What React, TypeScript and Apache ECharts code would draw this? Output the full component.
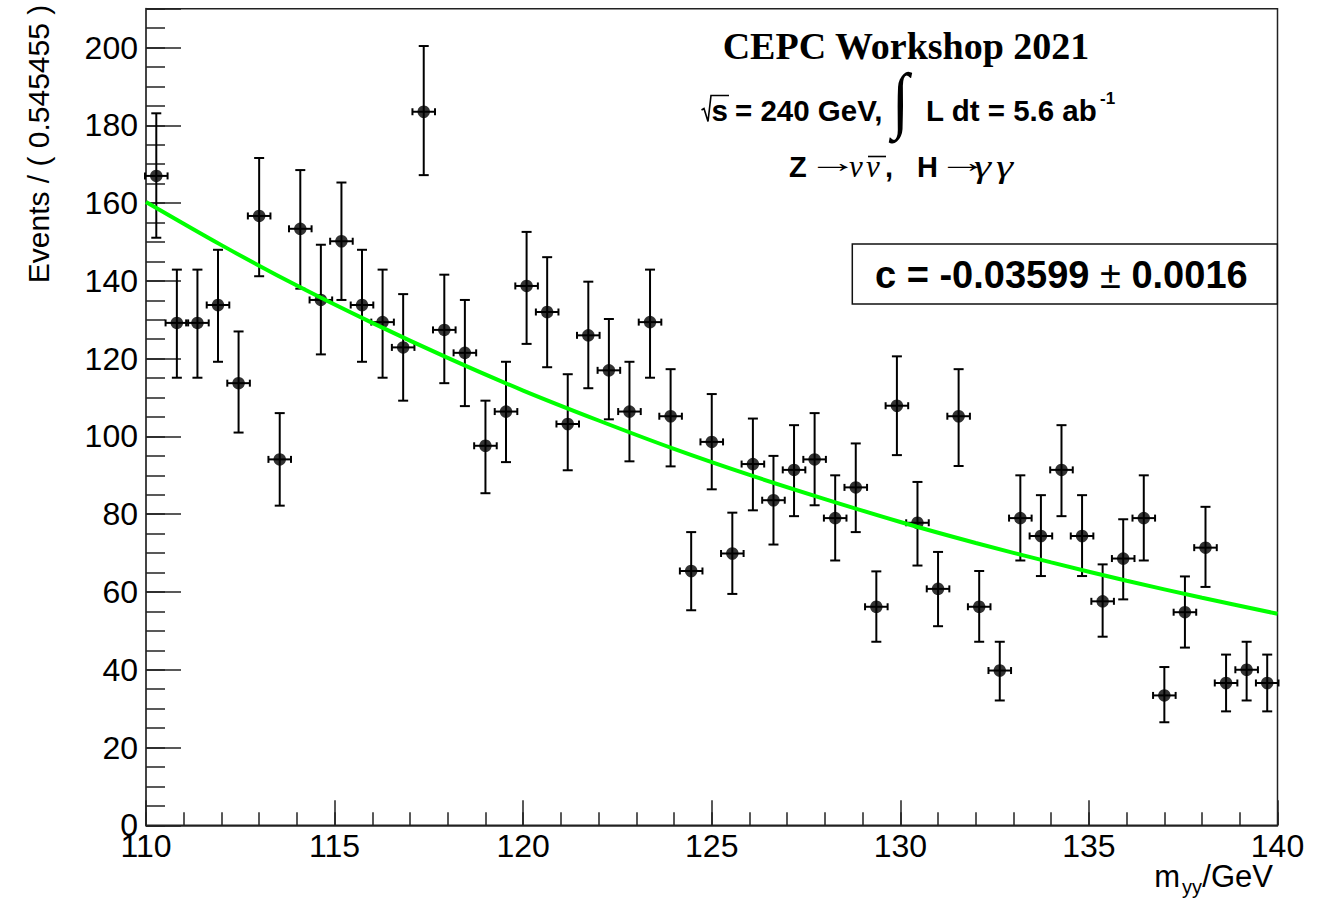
import React, { useEffect, useRef } from "react";
import * as echarts from "echarts";

// ---- data ----
const X_MIN = 110;
const X_MAX = 140;
const N_BINS = 55;
const BIN_WIDTH = (X_MAX - X_MIN) / N_BINS; // 0.545455

const counts = [
  167.0, 129.2, 129.2, 133.8, 113.7, 156.7, 94.1, 153.4, 135.1, 150.2,
  133.8, 129.4, 122.9, 183.5, 127.4, 121.5, 97.6, 106.4, 138.7, 132.0,
  103.2, 126.0, 117.0, 106.4, 129.4, 105.2, 65.4, 98.6, 69.9, 92.9,
  83.6, 91.4, 94.1, 79.0, 86.9, 56.2, 107.9, 77.8, 60.8, 105.2,
  56.2, 39.8, 79.0, 74.4, 91.4, 74.4, 57.6, 68.6, 79.0, 33.4,
  54.8, 71.4, 36.6, 40.0, 36.6,
];
const errHigh = [
  183.1, 142.9, 142.9, 148.0, 127.0, 171.6, 106.0, 168.5, 149.3, 165.3,
  148.0, 142.9, 136.6, 200.4, 141.6, 135.1, 109.2, 119.2, 152.6, 146.1,
  116.0, 139.8, 130.2, 119.2, 142.9, 117.3, 75.4, 110.9, 80.4, 104.6,
  95.0, 102.9, 106.0, 90.0, 98.2, 65.3, 120.6, 88.3, 70.3, 117.3,
  65.4, 47.2, 90.0, 84.9, 102.9, 84.9, 67.1, 78.7, 90.0, 40.7,
  64.0, 81.9, 43.9, 47.2, 43.9,
];
const errLow = [
  151.1, 115.1, 115.1, 119.2, 101.0, 141.2, 82.2, 138.0, 121.1, 135.1,
  119.2, 115.1, 109.2, 167.2, 113.7, 107.8, 85.4, 93.4, 123.8, 117.8,
  91.3, 112.4, 104.4, 93.6, 115.1, 92.3, 55.3, 86.4, 59.5, 81.0,
  72.2, 79.5, 82.3, 68.1, 75.4, 47.2, 95.2, 66.8, 51.2, 92.4,
  47.2, 32.1, 68.1, 64.1, 79.5, 64.1, 48.5, 58.1, 68.1, 26.5,
  45.7, 61.3, 29.3, 32.1, 29.3,
];

// fitted exponential (green curve), read at 2 GeV steps
const fitX = [110, 112, 114, 116, 118, 120, 122, 124, 126, 128, 130, 132, 134, 136, 138, 140];
const fitY = [160.3, 149.2, 138.8, 129.2, 120.2, 111.8, 104.1, 96.8, 90.1, 83.9, 78.0, 72.6, 67.6, 62.9, 58.5, 54.4];

const xTickStep = 5;
const yTickStep = 20;
const Y_MAX = 210;

const titleText = "CEPC Workshop 2021";
const fitText = "c = -0.03599";
const fitErrText = "0.0016";
const yTitle = "Events / ( 0.545455 )";

export default function App() {
  const ref = useRef<HTMLDivElement>(null);

  useEffect(() => {
    if (!ref.current) return;
    const chart = echarts.init(ref.current, null, { renderer: "svg" });

    const centers = counts.map((_, i) => X_MIN + (i + 0.5) * BIN_WIDTH);
    const points = counts.map((c, i) => [centers[i], c]);
    const bars = counts.map((c, i) => [centers[i], c, errLow[i], errHigh[i]]);
    const fit = fitX.map((x, i) => [x, fitY[i]]);

    const sans = "'Liberation Sans', Arial, sans-serif";
    const serif = "'Liberation Serif', 'Times New Roman', serif";
    const black = "#000";

    const capV = 5;
    const capH = 3.5;
    const txt = (x: number, y: number, text: string, font: string, extra: any = {}) => ({
      type: "text",
      x,
      y,
      ...extra,
      style: { text, font, fill: black, align: "left", verticalAlign: "middle", ...(extra.style || {}) },
    });

    const option: any = {
      animation: false,
      backgroundColor: "#fff",
      grid: {
        left: 146,
        right: 45.5,
        top: 8.7,
        bottom: 76.7,
        show: true,
        borderColor: "#222",
        borderWidth: 1.5,
        backgroundColor: "transparent",
      },
      xAxis: [
        {
          type: "value",
          min: X_MIN,
          max: X_MAX,
          interval: xTickStep,
          position: "bottom",
          axisLine: { show: true, onZero: false, lineStyle: { color: "#222", width: 1.5 } },
          axisTick: { show: true, inside: true, length: 25, lineStyle: { color: "#222", width: 1.5 } },
          axisLabel: { show: true, fontSize: 32, color: black, fontFamily: sans, margin: 5 },
          splitLine: { show: false },
        },
        {
          type: "value",
          min: X_MIN,
          max: X_MAX,
          interval: 1,
          position: "bottom",
          offset: 0,
          axisLine: { show: false, onZero: false },
          axisTick: { show: true, inside: true, length: 13, lineStyle: { color: "#222", width: 1.5 } },
          axisLabel: { show: false },
          splitLine: { show: false },
        },
      ],
      yAxis: [
        {
          type: "value",
          min: 0,
          max: Y_MAX,
          interval: yTickStep,
          position: "left",
          axisLine: { show: true, onZero: false, lineStyle: { color: "#444", width: 2 } },
          axisTick: { show: true, inside: true, length: 35, lineStyle: { color: "#222", width: 1.5 } },
          axisLabel: {
            show: true,
            fontSize: 32,
            color: black,
            fontFamily: sans,
            margin: 8,
            formatter: (v: number) => (v % yTickStep === 0 ? String(v) : ""),
          },
          splitLine: { show: false },
        },
        {
          type: "value",
          min: 0,
          max: Y_MAX,
          interval: 5,
          position: "left",
          offset: 0,
          axisLine: { show: false, onZero: false },
          axisTick: { show: true, inside: true, length: 19, lineStyle: { color: "#222", width: 1.5 } },
          axisLabel: { show: false },
          splitLine: { show: false },
        },
      ],
      series: [
        {
          type: "custom",
          xAxisIndex: 0,
          yAxisIndex: 0,
          z: 2,
          data: bars,
          encode: { x: 0, y: [1, 2, 3] },
          renderItem: (params: any, api: any) => {
            const x = api.value(0);
            const y = api.value(1);
            const lo = api.value(2);
            const hi = api.value(3);
            const pLo = api.coord([x, lo]);
            const pHi = api.coord([x, hi]);
            const pL = api.coord([x - BIN_WIDTH / 2, y]);
            const pR = api.coord([x + BIN_WIDTH / 2, y]);
            const st = { stroke: black, lineWidth: 2 };
            const mk = (x1: number, y1: number, x2: number, y2: number) => ({
              type: "line",
              shape: { x1, y1, x2, y2 },
              style: st,
            });
            return {
              type: "group",
              children: [
                mk(pLo[0], pLo[1], pHi[0], pHi[1]),
                mk(pLo[0] - capV, pLo[1], pLo[0] + capV, pLo[1]),
                mk(pHi[0] - capV, pHi[1], pHi[0] + capV, pHi[1]),
                mk(pL[0] - 1, pL[1], pR[0] + 1, pR[1]),
                mk(pL[0] - 1, pL[1] - capH, pL[0] - 1, pL[1] + capH),
                mk(pR[0] + 1, pR[1] - capH, pR[0] + 1, pR[1] + capH),
              ],
            };
          },
        },
        {
          type: "scatter",
          xAxisIndex: 0,
          yAxisIndex: 0,
          z: 3,
          symbol: "circle",
          symbolSize: 12.5,
          itemStyle: { color: black },
          data: points,
        },
        {
          type: "line",
          xAxisIndex: 0,
          yAxisIndex: 0,
          z: 4,
          smooth: 0.3,
          showSymbol: false,
          symbol: "none",
          lineStyle: { color: "#00ff00", width: 4 },
          data: fit,
        },
      ],
      graphic: [
        // title
        {
          type: "text",
          x: 906,
          y: 45.5,
          style: {
            text: titleText,
            font: `bold 38px ${serif}`,
            fill: black,
            align: "center",
            verticalAlign: "middle",
          },
        },
        // line 2: sqrt(s) = 240 GeV, ∫ L dt = 5.6 ab^-1
        {
          type: "polyline",
          shape: { points: [[701.5, 110], [704, 108.5], [708, 121.5], [711, 95.5], [729, 95.5]] },
          style: { stroke: black, lineWidth: 1.6, fill: null },
        },
        txt(711.5, 110, "s", `bold 29.5px ${sans}`),
        txt(735, 110, "= 240 GeV,", `bold 29.5px ${sans}`),
        txt(892, 100, "∫", `62px ${serif}`, { scaleY: 1.18 }),
        txt(926, 110, "L dt = 5.6 ab", `bold 29.5px ${sans}`),
        txt(1100, 98, "-1", `bold 17px ${sans}`),
        // line 3: Z -> nu nubar, H -> gamma gamma
        txt(789, 166.5, "Z", `bold 29px ${sans}`),
        txt(808, 163, "→", `28px ${serif}`, { scaleX: 1.8 }),
        txt(849, 166.5, "ν", `italic 31px ${serif}`),
        txt(866, 166.5, "ν", `italic 31px ${serif}`),
        { type: "line", shape: { x1: 868, y1: 156.5, x2: 886, y2: 156.5 }, style: { stroke: black, lineWidth: 1.6 } },
        txt(885, 166.5, ",", `bold 29px ${sans}`),
        txt(917, 166.5, "H", `bold 29px ${sans}`),
        txt(938, 163, "→", `28px ${serif}`, { scaleX: 1.8 }),
        txt(974, 166.5, "γ", `italic 31px ${serif}`, { scaleX: 1.4 }),
        txt(996, 166.5, "γ", `italic 31px ${serif}`, { scaleX: 1.4 }),
        // fit result box
        {
          type: "rect",
          shape: { x: 852.3, y: 244, width: 425, height: 60 },
          style: { fill: "#fff", stroke: "#111", lineWidth: 1.5 },
          z: 10,
        },
        {
          type: "text",
          x: 875,
          y: 275,
          z: 11,
          style: {
            text: `{b|${fitText} }{r|±}{b| ${fitErrText}}`,
            align: "left",
            verticalAlign: "middle",
            rich: {
              b: { font: `bold 38px ${sans}`, fill: black },
              r: { font: `38px ${sans}`, fill: black },
            },
          },
        },
        // y axis title
        {
          type: "text",
          x: 38.5,
          y: 144,
          rotation: Math.PI / 2,
          style: { text: yTitle, font: `30px ${sans}`, fill: black, align: "center", verticalAlign: "middle" },
        },
        // x axis title m_yy/GeV
        { type: "text", x: 1273, y: 876.5, style: { text: "/GeV", font: `31px ${sans}`, fill: black, align: "right", verticalAlign: "middle" } },
        { type: "text", x: 1202, y: 887, style: { text: "yy", font: `20px ${sans}`, fill: black, align: "right", verticalAlign: "middle" } },
        { type: "text", x: 1180, y: 876.5, style: { text: "m", font: `31px ${sans}`, fill: black, align: "right", verticalAlign: "middle" } },
      ],
    };

    chart.setOption(option);
    return () => chart.dispose();
  }, []);

  return (
    <div
      ref={ref}
      style={{ position: "absolute", left: 0, top: 0, width: 1323, height: 902, background: "#fff" }}
    />
  );
}
